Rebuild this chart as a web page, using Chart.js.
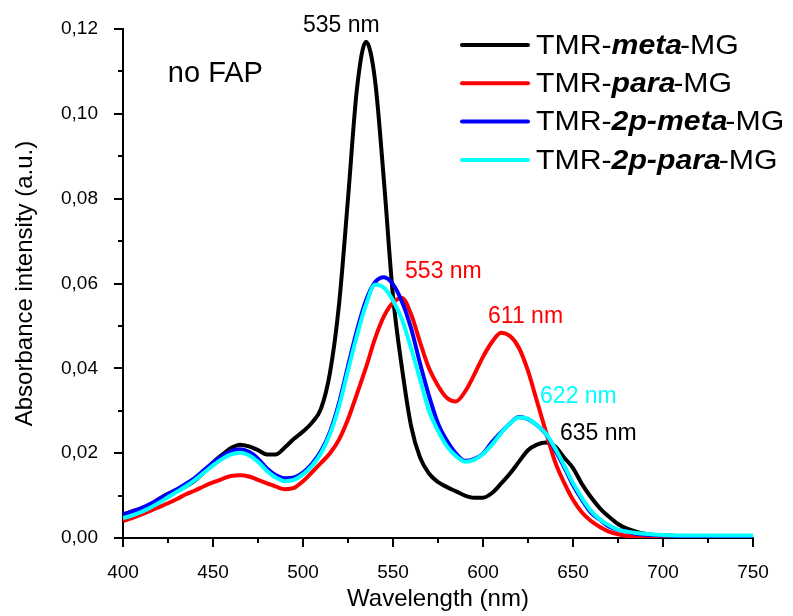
<!DOCTYPE html>
<html>
<head>
<meta charset="utf-8">
<script src="https://cdn.jsdelivr.net/npm/chart.js@4.4.1/dist/chart.umd.min.js"></script>
<style>
  html, body { margin: 0; padding: 0; background: #fff; }
  #wrap { width: 793px; height: 616px; }
</style>
</head>
<body>
<div id="wrap"><canvas id="chart" width="793" height="616"></canvas></div>
<script>
// wavelength grid (nm)
const wavelengths = [
  400, 405, 410, 415, 420, 425, 430, 435, 440, 445, 450, 455, 460, 465, 470, 475, 480, 485, 490, 495,
  500, 505, 510, 515, 520, 525, 530, 535, 540, 545, 550, 555, 560, 565, 570, 575, 580, 585, 590, 595,
  600, 605, 610, 615, 620, 625, 630, 635, 640, 645, 650, 655, 660, 665, 670, 675, 680, 685, 690, 695,
  700, 710, 720, 730, 740, 750
];

// absorbance values
const metaMG = [
  0.0055, 0.0063, 0.0070, 0.0078, 0.0092, 0.0104, 0.0112, 0.0122, 0.0136, 0.0155, 0.0178, 0.0196, 0.0212, 0.0220, 0.0216, 0.0207, 0.0197, 0.0197, 0.0214, 0.0234,
  0.0251, 0.0272, 0.0305, 0.0390, 0.0550, 0.0800, 0.1060, 0.1170, 0.1080, 0.0840, 0.0570, 0.0400, 0.0265, 0.0190, 0.0152, 0.0132, 0.0120, 0.0110, 0.0100, 0.0095,
  0.0095, 0.0106, 0.0128, 0.0152, 0.0180, 0.0207, 0.0220, 0.0225, 0.0216, 0.0190, 0.0165, 0.0127, 0.0096, 0.0070, 0.0050, 0.0033, 0.0022, 0.0015, 0.0010, 0.0007,
  0.0006, 0.0005, 0.0005, 0.0004, 0.0004, 0.0004
];
const paraMG = [
  0.0040, 0.0047, 0.0055, 0.0064, 0.0073, 0.0082, 0.0092, 0.0103, 0.0112, 0.0122, 0.0131, 0.0139, 0.0146, 0.0148, 0.0145, 0.0137, 0.0129, 0.0121, 0.0115, 0.0118,
  0.0134, 0.0155, 0.0177, 0.0200, 0.0232, 0.0280, 0.0340, 0.0402, 0.0470, 0.0523, 0.0555, 0.0566, 0.0528, 0.0462, 0.0400, 0.0359, 0.0330, 0.0322, 0.0345, 0.0384,
  0.0427, 0.0462, 0.0484, 0.0476, 0.0448, 0.0394, 0.0322, 0.0250, 0.0180, 0.0131, 0.0090, 0.0060, 0.0040, 0.0026, 0.0015, 0.0009, 0.0005, 0.0004, 0.0003, 0.0003,
  0.0003, 0.0003, 0.0003, 0.0003, 0.0003, 0.0003
];
const p2metaMG = [
  0.0056, 0.0062, 0.0070, 0.0080, 0.0092, 0.0104, 0.0115, 0.0128, 0.0142, 0.0160, 0.0178, 0.0193, 0.0205, 0.0209, 0.0203, 0.0187, 0.0164, 0.0148, 0.0141, 0.0143,
  0.0154, 0.0175, 0.0205, 0.0250, 0.0318, 0.0405, 0.0490, 0.0560, 0.0603, 0.0615, 0.0598, 0.0557, 0.0495, 0.0412, 0.0335, 0.0270, 0.0229, 0.0199, 0.0182, 0.0186,
  0.0199, 0.0226, 0.0249, 0.0270, 0.0285, 0.0280, 0.0266, 0.0245, 0.0208, 0.0168, 0.0125, 0.0090, 0.0060, 0.0043, 0.0027, 0.0019, 0.0015, 0.0010, 0.0008, 0.0007,
  0.0006, 0.0005, 0.0005, 0.0005, 0.0005, 0.0005
];
const p2paraMG = [
  0.0047, 0.0053, 0.0061, 0.0071, 0.0083, 0.0096, 0.0109, 0.0122, 0.0137, 0.0154, 0.0171, 0.0186, 0.0197, 0.0201, 0.0195, 0.0180, 0.0158, 0.0142, 0.0134, 0.0137,
  0.0150, 0.0170, 0.0200, 0.0245, 0.0310, 0.0395, 0.0478, 0.0550, 0.0597, 0.0590, 0.0560, 0.0515, 0.0448, 0.0375, 0.0300, 0.0253, 0.0216, 0.0193, 0.0180, 0.0184,
  0.0198, 0.0220, 0.0247, 0.0270, 0.0284, 0.0281, 0.0266, 0.0246, 0.0212, 0.0172, 0.0130, 0.0094, 0.0064, 0.0044, 0.0030, 0.0020, 0.0015, 0.0012, 0.0010, 0.0008,
  0.0007, 0.0006, 0.0006, 0.0006, 0.0006, 0.0006
];

// legend entries: [prefix, italic part, suffix]
const legendNames = [
  ['TMR-', 'meta', '-MG'],
  ['TMR-', 'para', '-MG'],
  ['TMR-', '2p-meta', '-MG'],
  ['TMR-', '2p-para', '-MG']
];
const seriesColors = ['#000000', '#ff0000', '#0000ff', '#00ffff'];

// peak annotations (text, wavelength, absorbance at baseline, colour)
const peakTexts = ['535 nm', '553 nm', '611 nm', '622 nm', '635 nm', 'no FAP'];
const peakX = [500, 556.7, 602.8, 631.7, 642.8, 424.9];
const peakY = [0.1192, 0.0614, 0.0508, 0.0319, 0.0232, 0.1075];
const peakColors = ['#000000', '#ff0000', '#ff0000', '#00ffff', '#000000', '#000000'];
const peakSizes = [23, 23, 23, 23, 23, 29];

const FONT = '"Liberation Sans", Arial, sans-serif';

function toPoints(values) {
  return wavelengths.map((w, i) => ({ x: w, y: values[i] }));
}

// 刻度线 + 图例 + 标注
const decorPlugin = {
  id: 'decor',
  afterDraw(chart) {
    const ctx = chart.ctx;
    const xs = chart.scales.x;
    const ys = chart.scales.y;
    const area = chart.chartArea;

    ctx.save();
    ctx.strokeStyle = '#000';
    ctx.lineWidth = 2;
    // x ticks (major 50, minor 25)
    for (let v = 400; v <= 750; v += 25) {
      const px = Math.round(xs.getPixelForValue(v));
      const len = (v - 400) % 50 === 0 ? 9 : 5;
      ctx.beginPath();
      ctx.moveTo(px, area.bottom);
      ctx.lineTo(px, area.bottom + len);
      ctx.stroke();
    }
    // y ticks (major 0.02, minor 0.01)
    for (let i = 0; i <= 12; i++) {
      const py = Math.round(ys.getPixelForValue(i * 0.01));
      const len = i % 2 === 0 ? 9 : 5;
      ctx.beginPath();
      ctx.moveTo(area.left, py);
      ctx.lineTo(area.left - len, py);
      ctx.stroke();
    }

    // annotations
    ctx.textAlign = 'left';
    ctx.textBaseline = 'alphabetic';
    peakTexts.forEach((t, i) => {
      ctx.fillStyle = peakColors[i];
      ctx.font = peakSizes[i] + 'px ' + FONT;
      ctx.fillText(t, xs.getPixelForValue(peakX[i]), ys.getPixelForValue(peakY[i]));
    });

    // legend (text slightly widened like the original)
    const lx0 = 462, lx1 = 528, tx = 536, ty0 = 45, dy = 38.3;
    legendNames.forEach((parts, i) => {
      const y = ty0 + i * dy;
      ctx.strokeStyle = seriesColors[i];
      ctx.lineWidth = 4;
      ctx.lineCap = 'round';
      ctx.beginPath();
      ctx.moveTo(lx0, y);
      ctx.lineTo(lx1, y);
      ctx.stroke();

      ctx.save();
      ctx.translate(tx, y + 1);
      ctx.scale(1.08, 1);
      ctx.fillStyle = '#000';
      ctx.textBaseline = 'middle';
      let x = 0;
      ctx.font = '28px ' + FONT;
      ctx.fillText(parts[0], x, 0);
      x += ctx.measureText(parts[0]).width;
      ctx.font = 'italic bold 28px ' + FONT;
      ctx.fillText(parts[1], x, 0);
      x += ctx.measureText(parts[1]).width - 2;
      ctx.font = '28px ' + FONT;
      ctx.fillText(parts[2], x, 0);
      ctx.restore();
    });
    ctx.restore();
  }
};

const seriesData = [metaMG, paraMG, p2metaMG, p2paraMG];

new Chart(document.getElementById('chart'), {
  type: 'line',
  data: {
    datasets: seriesData.map((vals, i) => ({
      label: legendNames[i].join(''),
      data: toPoints(vals),
      borderColor: seriesColors[i],
      backgroundColor: seriesColors[i],
      borderWidth: 4,
      pointRadius: 0,
      fill: false,
      cubicInterpolationMode: 'monotone',
      order: 4 - i
    }))
  },
  options: {
    responsive: false,
    devicePixelRatio: 1,
    animation: false,
    layout: { padding: { left: 0, right: 40, top: 29, bottom: 0 } },
    plugins: {
      legend: { display: false },
      tooltip: { enabled: false }
    },
    scales: {
      x: {
        type: 'linear',
        min: 400,
        max: 750,
        grid: { display: false },
        border: { display: true, color: '#000', width: 2 },
        ticks: {
          stepSize: 50,
          color: '#000',
          padding: 15,
          maxRotation: 0,
          font: { family: FONT, size: 19 }
        },
        title: {
          display: true,
          text: 'Wavelength (nm)',
          color: '#000',
          padding: { top: 0, bottom: 2 },
          font: { family: FONT, size: 24 }
        },
        afterFit(scale) { scale.height = 78; }
      },
      y: {
        min: 0,
        max: 0.12,
        grid: { display: false },
        border: { display: true, color: '#000', width: 2 },
        ticks: {
          stepSize: 0.02,
          color: '#000',
          padding: 17,
          font: { family: FONT, size: 19 },
          callback: (v) => v.toFixed(2).replace('.', ',')
        },
        title: {
          display: true,
          text: 'Absorbance intensity (a.u.)',
          color: '#000',
          padding: { top: 11, bottom: 0 },
          font: { family: FONT, size: 24 }
        },
        afterFit(scale) { scale.width = 123; }
      }
    }
  },
  plugins: [decorPlugin]
});
</script>
</body>
</html>
